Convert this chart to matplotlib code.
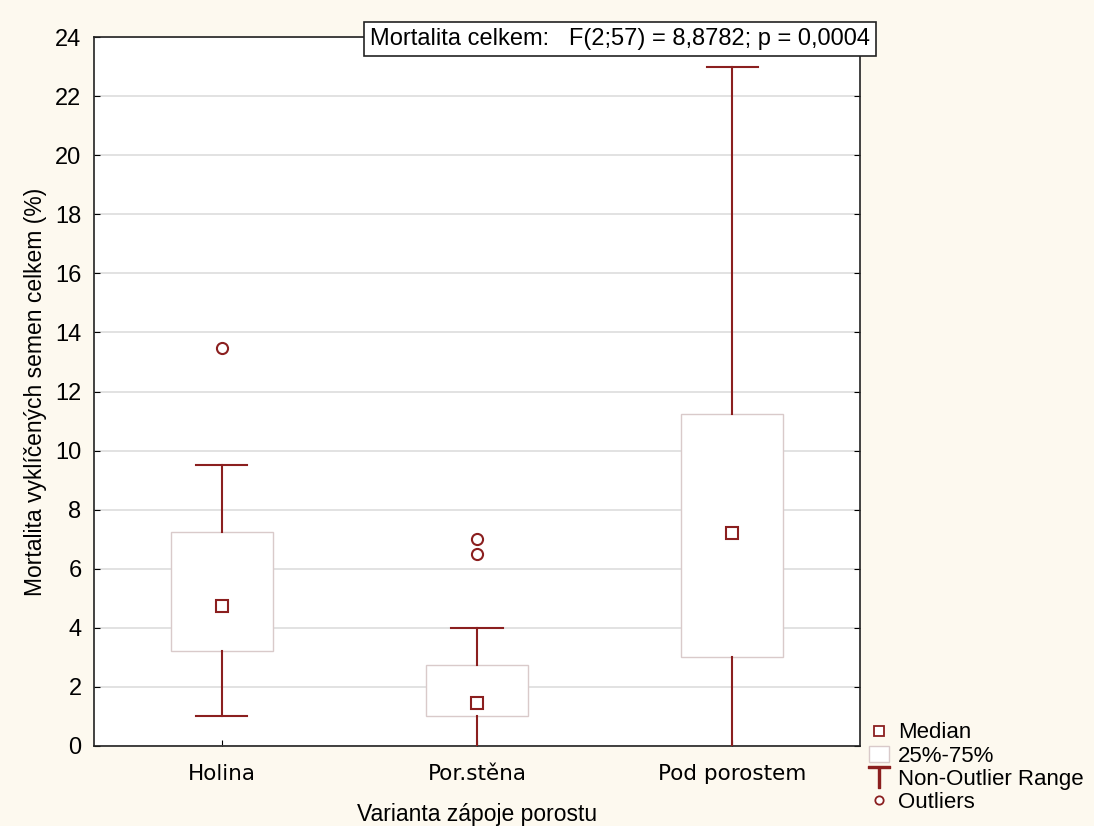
import numpy as np
import matplotlib.pyplot as plt
from matplotlib.lines import Line2D
from matplotlib.patches import Rectangle

# data
groups = ["Holina", "Por.stěna", "Pod porostem"]
q25 = [3.22, 1.0, 3.0]
q75 = [7.24, 2.75, 11.24]
medians = [4.74, 1.47, 7.22]
whisk_lo = [1.0, 0.0, 0.0]
whisk_hi = [9.5, 4.0, 23.0]
outliers = [[13.48], [7.0, 6.5], []]

red = "#8B1F1F"
boxedge = "#D9CACA"
bg = "#FDF9EF"

plt.rcParams['font.family'] = ['Liberation Sans', 'DejaVu Sans']

fig = plt.figure(figsize=(10.94, 8.26), dpi=100, facecolor=bg)
ax = fig.add_axes([94 / 1094, 1 - 746 / 826, 766 / 1094, 709 / 826])
ax.set_facecolor("white")

pos = np.arange(1, len(groups) + 1)
bw = 0.40
cw = 0.20
for i, x in enumerate(pos):
    ax.add_patch(Rectangle((x - bw / 2, q25[i]), bw, q75[i] - q25[i],
                           facecolor="white", edgecolor=boxedge, lw=1.0, zorder=3))
    ax.plot([x, x], [q75[i], whisk_hi[i]], color=red, lw=1.5, zorder=3)
    ax.plot([x, x], [whisk_lo[i], q25[i]], color=red, lw=1.5, zorder=3)
    ax.plot([x - cw / 2, x + cw / 2], [whisk_hi[i], whisk_hi[i]], color=red, lw=1.5, zorder=3)
    if whisk_lo[i] > 0:
        ax.plot([x - cw / 2, x + cw / 2], [whisk_lo[i], whisk_lo[i]], color=red, lw=1.5, zorder=3)
    ax.plot(x, medians[i], marker="s", ms=8, mfc="white", mec=red, mew=1.5, zorder=4)
    if outliers[i]:
        ax.plot([x] * len(outliers[i]), outliers[i], ls="none", marker="o", ms=8,
                mfc="white", mec=red, mew=1.5, zorder=4)

ax.set_xlim(0.5, 3.5)
ax.set_ylim(0, 24)
ax.set_yticks(np.arange(0, 25, 2))
ax.set_xticks(pos)
ax.set_xticklabels(groups, fontsize=15.5, family="DejaVu Sans")
ax.tick_params(axis="y", labelsize=17, direction="in", right=True, length=4, pad=9)
ax.tick_params(axis="x", direction="in", length=4, pad=13)
ax.grid(axis="y", color="#DDDDDD", lw=1.2, zorder=0)
ax.set_axisbelow(True)
for s in ax.spines.values():
    s.set_color("#222222")
    s.set_linewidth(1.2)

ax.set_ylabel("Mortalita vyklíčených semen celkem (%)", fontsize=16.5, labelpad=6)
ax.set_xlabel("Varianta zápoje porostu", fontsize=16.5, labelpad=14)

fig.text(370 / 1094, 1 - 39 / 826, "Mortalita celkem:   F(2;57) = 8,8782; p = 0,0004",
         fontsize=17, va="center", ha="left",
         bbox=dict(boxstyle="square,pad=0.25", fc="white", ec="#222222", lw=1.2))

handles = [
    Line2D([], [], ls="none", marker="s", ms=7, mfc="white", mec=red, mew=1.3),
    Rectangle((0, 0), 1, 1, fc="white", ec=boxedge),
    Line2D([], [], ls="none", marker="$\\top$", ms=16, color=red),
    Line2D([], [], ls="none", marker="o", ms=6, mfc="white", mec=red, mew=1.3),
]
labels = ["Median", "25%-75%", "Non-Outlier Range", "Outliers"]
fig.legend(handles, labels, loc="upper left", bbox_to_anchor=(856 / 1094, 1 - 709 / 826),
           frameon=False, fontsize=16, handlelength=0.9, handletextpad=0.4,
           labelspacing=0.1, borderpad=0.1)

fig.savefig("out.png", dpi=100, facecolor=bg)
